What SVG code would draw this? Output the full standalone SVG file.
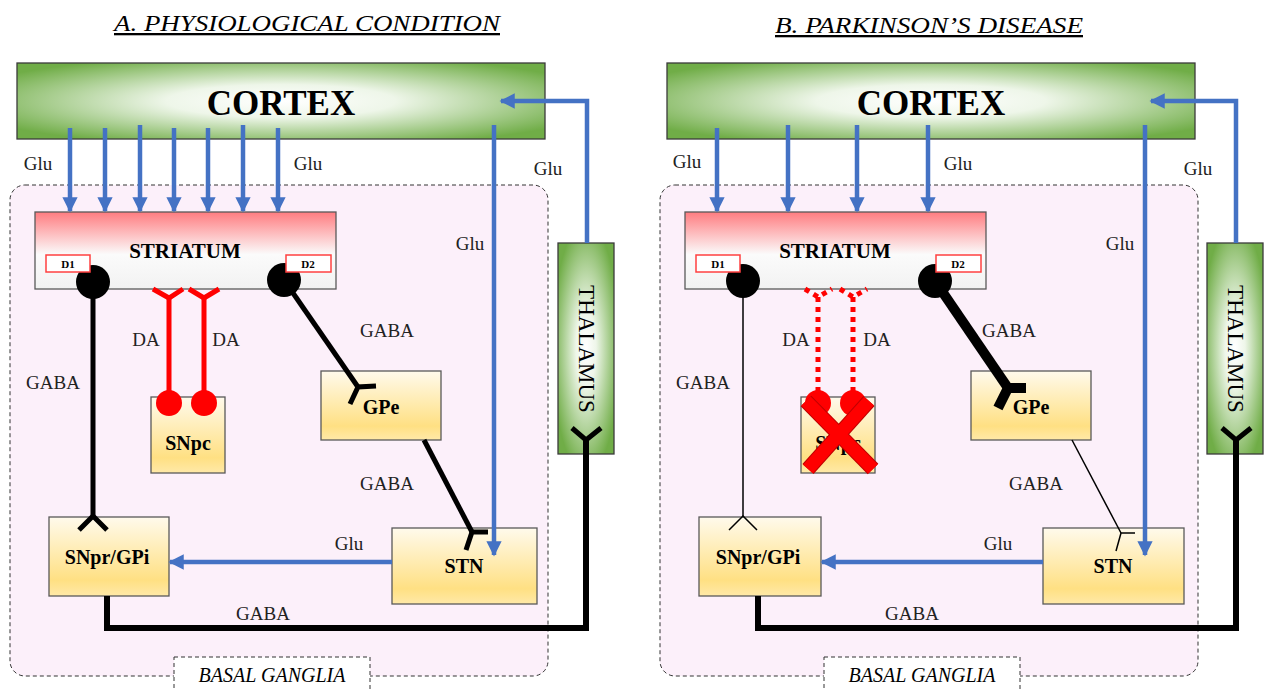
<svg xmlns="http://www.w3.org/2000/svg" width="1269" height="690" viewBox="0 0 1269 690" font-family="'Liberation Serif','Times New Roman',serif">
<defs>
<radialGradient id="gGreen" cx="0.5" cy="0.5" r="0.62">
<stop offset="0" stop-color="#ffffff"/>
<stop offset="0.35" stop-color="#eef6e9"/>
<stop offset="1" stop-color="#70ad47"/>
</radialGradient>
<radialGradient id="gThal" cx="0.5" cy="0.5" r="0.6">
<stop offset="0" stop-color="#ffffff"/>
<stop offset="0.3" stop-color="#eef6e9"/>
<stop offset="1" stop-color="#70ad47"/>
</radialGradient>
<linearGradient id="gStr" x1="0" y1="0" x2="0" y2="1">
<stop offset="0" stop-color="#ff7c80"/>
<stop offset="0.55" stop-color="#fbfbfb"/>
<stop offset="1" stop-color="#f2f2f2"/>
</linearGradient>
<linearGradient id="gBox" x1="0" y1="0" x2="0" y2="1">
<stop offset="0" stop-color="#fffaec"/>
<stop offset="0.8" stop-color="#ffe083"/>
<stop offset="1" stop-color="#ffe9a8"/>
</linearGradient>
<marker id="ab" viewBox="0 0 10 10" refX="9" refY="5" markerWidth="3.4" markerHeight="3.4" orient="auto" markerUnits="strokeWidth">
<path d="M0,0 L10,5 L0,10 z" fill="#4472c4"/>
</marker>
<style>
.t{font-family:"Liberation Serif","Times New Roman",serif;fill:#000}
.ttl{font-size:23px;font-style:italic;text-decoration:underline}
.lab{font-size:19px;fill:#222}
.nb{font-size:20px;font-weight:bold}
.bg{fill:#fcf0fa;stroke:#333;stroke-width:1;stroke-dasharray:4 3}
.bgl{fill:#fff;stroke:#333;stroke-width:1;stroke-dasharray:4 3}
.box{fill:url(#gBox);stroke:#595959;stroke-width:1.3}
.grn{stroke:#3b3b3b;stroke-width:1.3}
.rc{fill:#fff;stroke:#ff4040;stroke-width:1.5}
.blue{stroke:#4472c4;stroke-width:4.5;fill:none}
.blk{stroke:#000;fill:none;stroke-linecap:butt}
.red{stroke:#ff0000;stroke-width:5;fill:none}
.redd{stroke:#ff0000;stroke-width:5;fill:none;stroke-dasharray:5 5}
</style>
</defs>
<rect width="1269" height="690" fill="#fff"/>

<!-- titles -->
<text class="t ttl" x="307" y="31" text-anchor="middle" textLength="386" lengthAdjust="spacingAndGlyphs">A. PHYSIOLOGICAL CONDITION</text>
<text class="t ttl" x="929" y="33" text-anchor="middle" textLength="308" lengthAdjust="spacingAndGlyphs">B. PARKINSON’S DISEASE</text>

<!-- ================= PANEL A ================= -->
<g id="bgA">
<rect class="bg" x="10" y="185" width="538" height="491" rx="15"/>
</g>
<g id="cortexA">
<rect x="17" y="63" width="528" height="76" fill="url(#gGreen)" class="grn"/>
<text class="t" x="281" y="115" text-anchor="middle" font-size="35" font-weight="bold">CORTEX</text>
</g>
<g id="thalamusA">
<rect x="558" y="243" width="56" height="211" fill="url(#gThal)" class="grn"/>
<text class="t" transform="translate(579,349) rotate(90)" text-anchor="middle" font-size="23">THALAMUS</text>
</g>
<g id="striatumA">
<rect x="35" y="212" width="301" height="77" fill="url(#gStr)" stroke="#595959" stroke-width="1.3"/>
<text class="t" x="185" y="258" text-anchor="middle" font-size="21" font-weight="bold">STRIATUM</text>
</g>
<g id="snpcA">
<rect class="box" x="151" y="397" width="74" height="76"/>
<text class="t nb" x="188" y="450" text-anchor="middle">SNpc</text>
</g>
<g id="gpeA">
<rect class="box" x="321" y="371" width="120" height="69"/>
<text class="t nb" x="381" y="414" text-anchor="middle">GPe</text>
</g>
<g id="stnA">
<rect class="box" x="392" y="528" width="145" height="76"/>
<text class="t nb" x="464" y="573" text-anchor="middle">STN</text>
</g>
<g id="snprA">
<rect class="box" x="49" y="517" width="120" height="79"/>
<text class="t nb" x="107" y="564" text-anchor="middle">SNpr/GPi</text>
</g>
<g id="basalLabelA">
<rect class="bgl" x="174" y="657" width="196" height="40"/>
<text class="t" x="272" y="682" text-anchor="middle" font-size="20" font-style="italic">BASAL GANGLIA</text>
</g>

<g id="connectorsA">
<line class="blue" x1="70" y1="128" x2="70" y2="211" marker-end="url(#ab)"/>
<line class="blue" x1="105" y1="128" x2="105" y2="211" marker-end="url(#ab)"/>
<line class="blue" x1="140" y1="125" x2="140" y2="211" marker-end="url(#ab)"/>
<line class="blue" x1="174" y1="128" x2="174" y2="211" marker-end="url(#ab)"/>
<line class="blue" x1="208" y1="128" x2="208" y2="211" marker-end="url(#ab)"/>
<line class="blue" x1="243" y1="125" x2="243" y2="211" marker-end="url(#ab)"/>
<line class="blue" x1="278" y1="128" x2="278" y2="211" marker-end="url(#ab)"/>
<line class="blue" x1="494" y1="125" x2="494" y2="555" marker-end="url(#ab)"/>
<polyline class="blue" points="587,243 587,101 501,101" marker-end="url(#ab)"/>
<line class="blue" x1="392" y1="562" x2="170" y2="562" marker-end="url(#ab)"/>

<circle cx="93" cy="282" r="17" fill="#000"/>
<line class="blk" x1="93" y1="290" x2="93" y2="516" stroke-width="5"/>
<polyline class="blk" points="79,530 93,516 107,530" stroke-width="5"/>
<circle cx="284" cy="280" r="17" fill="#000"/>
<line class="blk" x1="284" y1="280" x2="358" y2="387" stroke-width="5"/>
<polyline class="blk" points="376,386 358,387 350,404" stroke-width="5"/>
<line class="blk" x1="424" y1="440" x2="472" y2="532" stroke-width="5"/>
<polyline class="blk" points="488,532 472,532 466,550" stroke-width="5"/>
<polyline class="blk" points="107,596 107,628 586,628 586,440" stroke-width="6"/>
<polyline class="blk" points="572,428 586,440 601,428" stroke-width="5"/>
<line class="red" x1="169" y1="403" x2="169" y2="297"/>
<polyline class="red" points="153,289 169,298 183,289"/>
<line class="red" x1="204" y1="403" x2="204" y2="297"/>
<polyline class="red" points="189,289 204,298 219,289"/>
<circle cx="169" cy="403" r="13" fill="#ff0000"/>
<circle cx="204" cy="403" r="13" fill="#ff0000"/>
</g>
<g id="dboxA">
<rect class="rc" x="46" y="255" width="44" height="17"/>
<text class="t" x="68" y="268" text-anchor="middle" font-size="11" font-weight="bold">D1</text>
<rect class="rc" x="286" y="255" width="45" height="17"/>
<text class="t" x="308" y="268" text-anchor="middle" font-size="11" font-weight="bold">D2</text>
</g>
<g id="labelsA">
<text class="t lab" x="38" y="170" text-anchor="middle">Glu</text>
<text class="t lab" x="308" y="170" text-anchor="middle">Glu</text>
<text class="t lab" x="470" y="250" text-anchor="middle">Glu</text>
<text class="t lab" x="548" y="175" text-anchor="middle">Glu</text>
<text class="t lab" x="349" y="550" text-anchor="middle">Glu</text>
<text class="t lab" x="53" y="389" text-anchor="middle">GABA</text>
<text class="t lab" x="387" y="337" text-anchor="middle">GABA</text>
<text class="t lab" x="387" y="490" text-anchor="middle">GABA</text>
<text class="t lab" x="263" y="620" text-anchor="middle">GABA</text>
<text class="t lab" x="146" y="346" text-anchor="middle">DA</text>
<text class="t lab" x="226" y="346" text-anchor="middle">DA</text>
</g>

<!-- ================= PANEL B ================= -->
<g id="bgB">
<rect class="bg" x="660" y="185" width="538" height="491" rx="15"/>
</g>
<g id="cortexB">
<rect x="667" y="63" width="528" height="76" fill="url(#gGreen)" class="grn"/>
<text class="t" x="931" y="115" text-anchor="middle" font-size="35" font-weight="bold">CORTEX</text>
</g>
<g id="thalamusB">
<rect x="1207" y="243" width="56" height="211" fill="url(#gThal)" class="grn"/>
<text class="t" transform="translate(1228,349) rotate(90)" text-anchor="middle" font-size="23">THALAMUS</text>
</g>
<g id="striatumB">
<rect x="685" y="212" width="301" height="77" fill="url(#gStr)" stroke="#595959" stroke-width="1.3"/>
<text class="t" x="835" y="258" text-anchor="middle" font-size="21" font-weight="bold">STRIATUM</text>
</g>
<g id="snpcB">
<rect class="box" x="801" y="397" width="74" height="76"/>
<text class="t nb" x="838" y="450" text-anchor="middle">SNpc</text>
</g>
<g id="gpeB">
<rect class="box" x="971" y="371" width="120" height="69"/>
<text class="t nb" x="1031" y="414" text-anchor="middle">GPe</text>
</g>
<g id="stnB">
<rect class="box" x="1043" y="528" width="141" height="76"/>
<text class="t nb" x="1113" y="573" text-anchor="middle">STN</text>
</g>
<g id="snprB">
<rect class="box" x="699" y="517" width="122" height="79"/>
<text class="t nb" x="758" y="564" text-anchor="middle">SNpr/GPi</text>
</g>
<g id="basalLabelB">
<rect class="bgl" x="824" y="657" width="196" height="40"/>
<text class="t" x="922" y="682" text-anchor="middle" font-size="20" font-style="italic">BASAL GANGLIA</text>
</g>

<g id="connectorsB">
<line class="blue" x1="717" y1="128" x2="717" y2="211" marker-end="url(#ab)"/>
<line class="blue" x1="788" y1="125" x2="788" y2="211" marker-end="url(#ab)"/>
<line class="blue" x1="857" y1="125" x2="857" y2="211" marker-end="url(#ab)"/>
<line class="blue" x1="928" y1="125" x2="928" y2="211" marker-end="url(#ab)"/>
<line class="blue" x1="1145" y1="125" x2="1145" y2="555" marker-end="url(#ab)"/>
<polyline class="blue" points="1236,243 1236,101 1151,101" marker-end="url(#ab)"/>
<line class="blue" x1="1043" y1="562" x2="822" y2="562" marker-end="url(#ab)"/>

<circle cx="743" cy="281" r="17" fill="#000"/>
<line class="blk" x1="743" y1="290" x2="743" y2="516" stroke-width="1.5"/>
<polyline class="blk" points="729,530 743,516 757,530" stroke-width="1.5"/>
<circle cx="935" cy="281" r="17" fill="#000"/>
<line class="blk" x1="935" y1="281" x2="1008" y2="388" stroke-width="10"/>
<polyline class="blk" points="1026,388 1008,388 998,408" stroke-width="10"/>
<line class="blk" x1="1072" y1="440" x2="1121" y2="533" stroke-width="1.5"/>
<polyline class="blk" points="1135,533 1121,533 1116,551" stroke-width="1.5"/>
<polyline class="blk" points="758,596 758,628 1236,628 1236,440" stroke-width="6"/>
<polyline class="blk" points="1222,428 1236,440 1251,428" stroke-width="5"/>
<line class="redd" x1="818" y1="392" x2="818" y2="297"/>
<polyline class="redd" points="805,289 818,297 832,289" stroke-dasharray="4 4"/>
<line class="redd" x1="853" y1="392" x2="853" y2="297"/>
<polyline class="redd" points="840,289 853,297 867,289" stroke-dasharray="4 4"/>
<circle cx="818" cy="403" r="13" fill="#ff0000"/>
<circle cx="853" cy="403" r="13" fill="#ff0000"/>
<line x1="806" y1="401" x2="873" y2="469" stroke="#c00000" stroke-width="15"/>
<line x1="869" y1="401" x2="808" y2="469" stroke="#c00000" stroke-width="15"/>
<line x1="806" y1="401" x2="873" y2="469" stroke="#ff0000" stroke-width="13"/>
<line x1="869" y1="401" x2="808" y2="469" stroke="#ff0000" stroke-width="13"/>
</g>
<g id="dboxB">
<rect class="rc" x="696" y="255" width="44" height="17"/>
<text class="t" x="718" y="268" text-anchor="middle" font-size="11" font-weight="bold">D1</text>
<rect class="rc" x="936" y="255" width="45" height="17"/>
<text class="t" x="958" y="268" text-anchor="middle" font-size="11" font-weight="bold">D2</text>
</g>
<g id="labelsB">
<text class="t lab" x="687" y="168" text-anchor="middle">Glu</text>
<text class="t lab" x="958" y="170" text-anchor="middle">Glu</text>
<text class="t lab" x="1120" y="250" text-anchor="middle">Glu</text>
<text class="t lab" x="1198" y="175" text-anchor="middle">Glu</text>
<text class="t lab" x="998" y="550" text-anchor="middle">Glu</text>
<text class="t lab" x="703" y="389" text-anchor="middle">GABA</text>
<text class="t lab" x="1009" y="337" text-anchor="middle">GABA</text>
<text class="t lab" x="1036" y="490" text-anchor="middle">GABA</text>
<text class="t lab" x="912" y="620" text-anchor="middle">GABA</text>
<text class="t lab" x="796" y="346" text-anchor="middle">DA</text>
<text class="t lab" x="877" y="346" text-anchor="middle">DA</text>
</g>
</svg>
